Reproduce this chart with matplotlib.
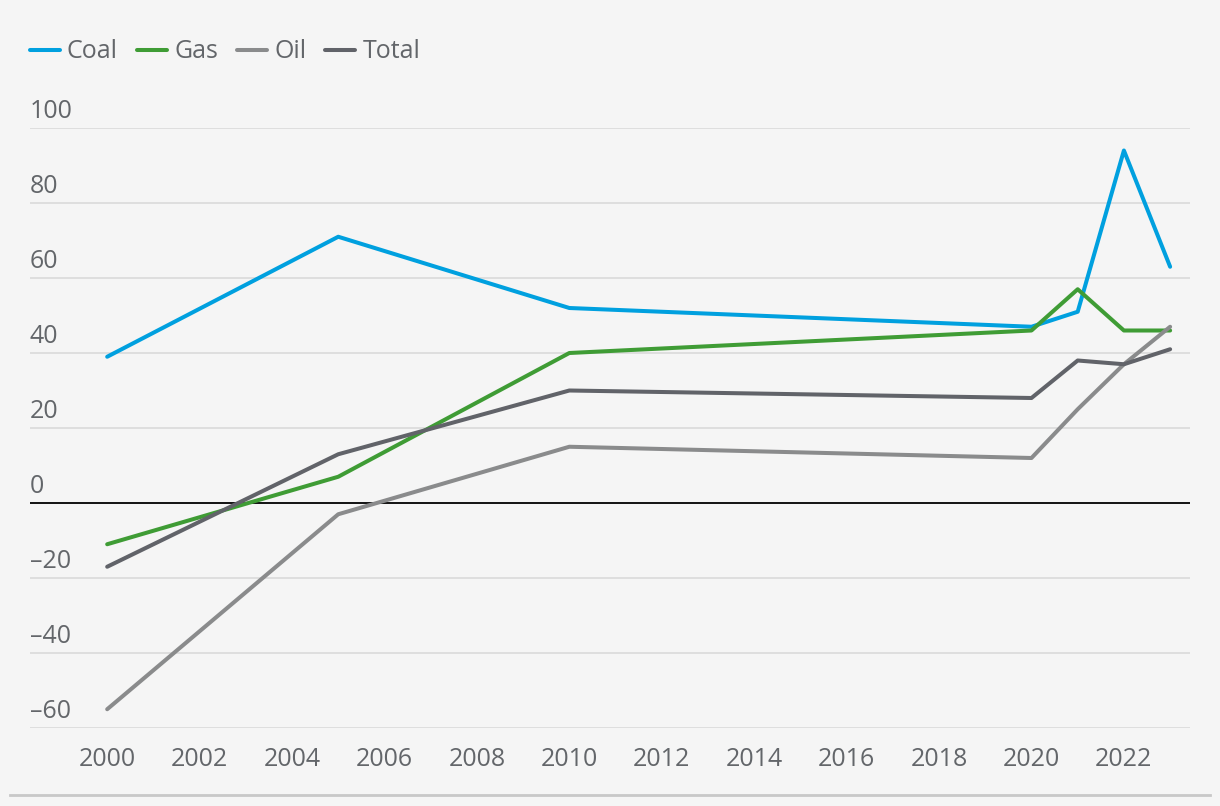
import matplotlib.pyplot as plt
import matplotlib.transforms as mtransforms

# data
years = [2000, 2005, 2010, 2020, 2021, 2022, 2023]
coal = [39, 71, 52, 47, 51, 94, 63]
gas = [-11, 7, 40, 46, 57, 46, 46]
oil = [-55, -3, 15, 12, 25, 37, 47]
total = [-17, 13, 30, 28, 38, 37, 41]

series_names = ['Coal', 'Gas', 'Oil', 'Total']
series_colors = ['#00a0df', '#3f9c35', '#8a8b8c', '#616369']

y_ticks = [-60, -40, -20, 0, 20, 40, 60, 80, 100]
x_ticks = list(range(2000, 2024, 2))

bg = '#f5f5f5'
text_color = '#63666a'
plt.rcParams['font.family'] = ['Open Sans', 'DejaVu Sans']

fig = plt.figure(figsize=(12.2, 8.06), dpi=100, facecolor=bg)
W, H = 1220, 806
ax = fig.add_axes([30 / W, (H - 728) / H, 1160 / W, 600 / H], facecolor=bg)

for name, vals, c in zip(series_names, [coal, gas, oil, total], series_colors):
    ax.plot(years, vals, color=c, lw=2.9, label=name, solid_capstyle='round', zorder=3)

ax.set_xlim(1998.33, 2023.43)
ax.set_ylim(-60, 100)

# gridlines
for v in y_ticks:
    if v == 0:
        ax.axhline(0, color='#111111', lw=1.4, zorder=2)
    else:
        ax.axhline(v, color='#dcdcdc', lw=1.3, zorder=1)

# y labels sit above gridlines on the left
offs = mtransforms.offset_copy(ax.get_yaxis_transform(), fig=fig, x=0, y=4, units='dots')
for v in y_ticks:
    lab = str(v).replace('-', '\u2013')
    ax.text(0, v, lab, transform=offs, ha='left', va='bottom', fontsize=18, color=text_color)

ax.set_yticks([])
ax.set_xticks(x_ticks)
ax.tick_params(axis='x', length=0, pad=14, labelsize=18, labelcolor=text_color)
for s in ax.spines.values():
    s.set_visible(False)

leg = fig.legend(loc='upper left', bbox_to_anchor=(7 / W, 1 - 17 / H), ncol=4, frameon=False,
                 fontsize=18, handlelength=1.2, handletextpad=0.3, columnspacing=0.75,
                 labelcolor=text_color)
for ln in leg.get_lines():
    ln.set_linewidth(2.9)

# bottom rule
fig.add_artist(plt.Line2D([10 / W, 1210 / W], [1 - 795 / H, 1 - 795 / H], color='#c8c8c8', lw=2))

fig.savefig('out.png', dpi=100, facecolor=bg)
